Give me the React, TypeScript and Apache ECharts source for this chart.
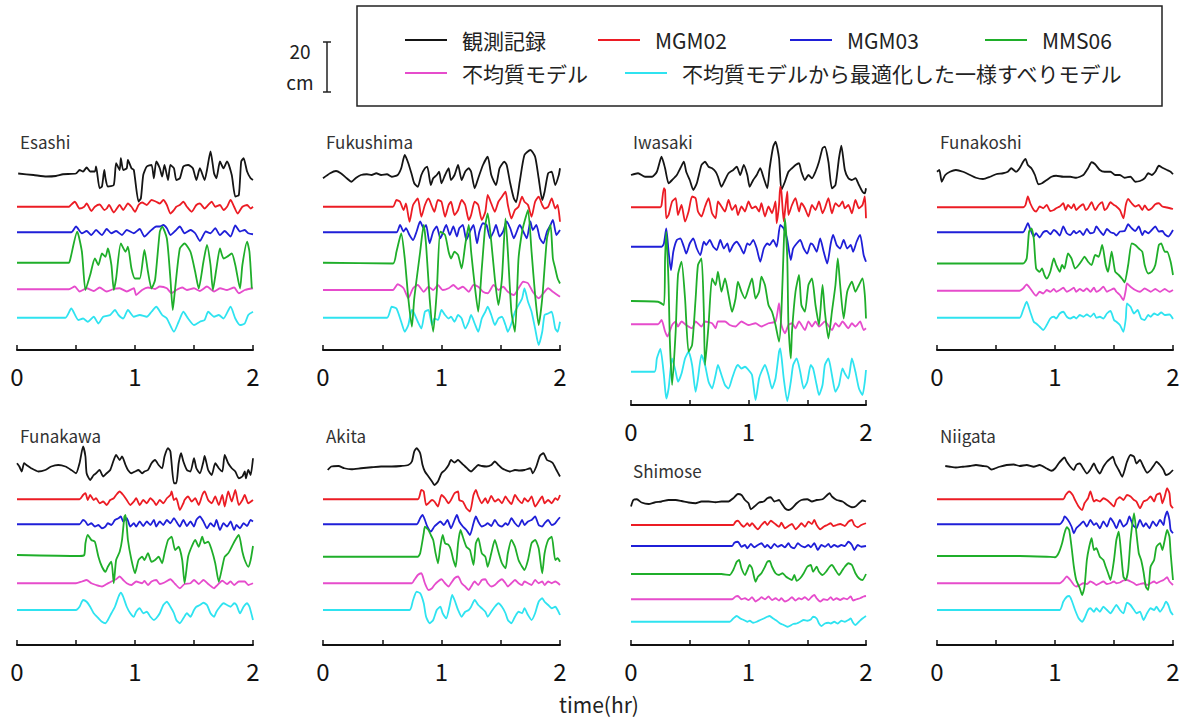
import React, { useEffect, useRef } from "react";
import * as echarts from "echarts";

// ---------- labels ----------
const SERIES_NAMES = [
  "観測記録",
  "MGM02",
  "MGM03",
  "MMS06",
  "不均質モデル",
  "不均質モデルから最適化した一様すべりモデル",
];
const STATIONS = ["Esashi", "Fukushima", "Iwasaki", "Funakoshi", "Funakawa", "Akita", "Shimose", "Niigata"];
const X_TICK_LABELS = [0, 1, 2];
const SCALE_BAR_CM = 20;
const X_LABEL = "time(hr)";

// ---------- waveforms: flat [time(hr), height(cm), ...] ----------
// Esashi
const esashiObs = [0.01,0.3, 0.14,-0.3, 0.25,-0.9, 0.33,-0.7, 0.39,0, 0.50,0.3, 0.53,1.7, 0.56,1.1, 0.59,2.7, 0.62,1.1, 0.66,1.1, 0.67,3.1, 0.70,-5.6, 0.72,-4.9, 0.74,1.7, 0.75,-1.6, 0.77,-4.9, 0.82,-4.3, 0.84,4.4, 0.87,1.7, 0.88,6.4, 0.90,1.7, 0.93,2.4, 0.94,5.7, 0.97,2.4, 0.99,1.7, 1.03,-10.9, 1.05,-9.6, 1.07,-0.3, 1.10,3.1, 1.14,3.7, 1.16,-1.6, 1.18,5.1, 1.21,2.4, 1.23,-0.9, 1.25,3.7, 1.28,-2.3, 1.30,3.7, 1.33,2.4, 1.35,-2.3, 1.38,-1.6, 1.41,3.1, 1.45,3.7, 1.49,2.4, 1.52,-2.3, 1.55,2.4, 1.59,-2.3, 1.61,1.7, 1.64,9.1, 1.67,0.4, 1.69,-1.6, 1.72,5.1, 1.75,2.4, 1.78,5.1, 1.82,-0.3, 1.85,-8.9, 1.88,-8.3, 1.90,5.1, 1.92,6.4, 1.95,1.1, 1.98,-1.6, 2.00,-2.3];
const esashiM02 = [0,0, 0.44,0, 0.45,0.4, 0.49,2, 0.53,-0.7, 0.57,0, 0.59,1.3, 0.63,-1.7, 0.66,0, 0.70,0.9, 0.74,-1.3, 0.76,-0.7, 0.78,0.7, 0.82,-2.3, 0.87,0.7, 0.90,-1.3, 0.94,1.3, 0.97,0, 1.00,-2, 1.03,0.7, 1.06,1.7, 1.10,0.7, 1.14,2.7, 1.18,2, 1.21,1.3, 1.24,2.7, 1.27,0.7, 1.30,-2.7, 1.33,-1.3, 1.35,0, 1.38,0.7, 1.41,2, 1.44,0, 1.48,-2, 1.52,0.7, 1.55,1.3, 1.59,-0.7, 1.62,0.7, 1.65,2, 1.68,0, 1.72,0.7, 1.75,-1.3, 1.78,0, 1.81,2.7, 1.84,0, 1.87,-2.7, 1.91,0, 1.95,0.7, 1.98,-0.7, 2.00,0];
const esashiM03 = [0,0, 0.46,0, 0.50,2.3, 0.55,-0.4, 0.59,0.5, 0.63,-1.1, 0.67,0.9, 0.72,-1.1, 0.76,1.3, 0.80,-0.4, 0.84,0.5, 0.89,-1.1, 0.93,0.9, 0.99,-0.4, 1.04,1.3, 1.08,-1.7, 1.13,0.5, 1.18,2.3, 1.21,2.3, 1.24,2.9, 1.27,1.6, 1.30,-1.1, 1.34,0.5, 1.38,2.3, 1.42,-0.4, 1.47,0.9, 1.51,-0.4, 1.55,-3.5, 1.60,0.3, 1.64,-0.4, 1.68,1.6, 1.72,-1.1, 1.76,0.5, 1.81,-1.7, 1.85,2.7, 1.89,0.3, 1.93,0.9, 1.96,-0.4, 2.00,-0.8];
const esashiM06 = [0,0, 0.44,0, 0.45,1.1, 0.51,12.4, 0.55,4.4, 0.58,-10.9, 0.62,-4.9, 0.66,1.7, 0.69,-0.9, 0.72,3.7, 0.75,2.4, 0.77,5.7, 0.80,-0.9, 0.82,-10.9, 0.84,-6.3, 0.88,7.7, 0.92,4.4, 0.94,6.4, 0.97,-2.3, 1.00,-6.3, 1.04,-6.3, 1.08,5.1, 1.11,-3.6, 1.14,-10.3, 1.17,-6.9, 1.21,12.4, 1.23,14.4, 1.27,9.7, 1.30,-6.3, 1.32,-18.9, 1.34,-10.3, 1.38,5.7, 1.42,7.7, 1.47,4.4, 1.51,-3.6, 1.54,-10.3, 1.58,0.4, 1.61,7.1, 1.64,-0.9, 1.66,-10.9, 1.69,-2.3, 1.72,5.7, 1.75,1.7, 1.78,2.4, 1.82,3.7, 1.85,-0.9, 1.89,-10.3, 1.91,-0.9, 1.95,8.4, 1.97,4.4, 1.99,-10.3];
const esashiHet = [0,0, 0.44,0, 0.49,1.1, 0.53,-0.9, 0.59,0.4, 0.65,-0.7, 0.70,0.7, 0.76,-0.9, 0.82,0.1, 0.87,0.4, 0.93,-0.9, 0.99,0.4, 1.01,-2.3, 1.06,-0.3, 1.11,0.7, 1.17,0.1, 1.21,1.1, 1.27,0.4, 1.31,-1.6, 1.35,-0.3, 1.40,0.7, 1.44,-0.3, 1.50,0.4, 1.55,-0.7, 1.61,1.1, 1.67,-0.9, 1.72,0.4, 1.78,-0.3, 1.84,0.7, 1.88,-1.6, 1.93,-0.3, 2.00,0.4];
const esashiUni = [0,0, 0.41,0, 0.46,3.7, 0.52,-0.9, 0.56,-0.3, 0.60,-1.6, 0.65,0.4, 0.69,-2.3, 0.73,0.4, 0.79,1.1, 0.83,3.1, 0.86,1.1, 0.90,-0.3, 0.94,3.1, 0.99,0.4, 1.04,1.1, 1.10,0.4, 1.14,2.4, 1.18,4.4, 1.23,1.1, 1.27,-0.3, 1.33,-5.6, 1.37,-1.6, 1.41,2.4, 1.45,-0.3, 1.50,-2.9, 1.55,-1.6, 1.59,-0.9, 1.62,2.4, 1.67,0.4, 1.71,1.1, 1.75,-0.3, 1.81,4.4, 1.85,-0.3, 1.89,-2.9, 1.93,-2.3, 1.96,1.1, 2.00,2.4];

// Fukushima
const fukushimaObs = [0.00,-1.3, 0.06,0.7, 0.11,1.6, 0.15,0.7, 0.20,-1.3, 0.24,-2.7, 0.28,-1.1, 0.32,0, 0.37,0.3, 0.41,0, 0.45,0.7, 0.49,0, 0.54,0.3, 0.58,-0.7, 0.63,0, 0.66,2.7, 0.69,8.0, 0.72,4.7, 0.75,0, 0.77,-3.3, 0.80,-4.7, 0.83,0, 0.86,2.7, 0.88,3.3, 0.91,-4.0, 0.93,-1.3, 0.96,0, 0.98,1.3, 1.00,-3.3, 1.03,0, 1.06,2.7, 1.08,-2.0, 1.11,0, 1.14,4.0, 1.17,-2.0, 1.20,1.3, 1.23,2.7, 1.25,1.3, 1.28,-5.3, 1.31,-1.3, 1.35,4.0, 1.39,7.3, 1.42,0, 1.46,-4.0, 1.49,2.7, 1.53,5.3, 1.55,4.0, 1.58,-3.3, 1.61,-9.3, 1.63,-10.9, 1.66,-2.7, 1.70,8.0, 1.75,10.0, 1.79,7.3, 1.82,-1.3, 1.85,-10.0, 1.87,-6.7, 1.90,0.7, 1.93,1.3, 1.96,-4.0, 1.99,0, 2.00,2.7];
const fukushimaM02 = [0,0, 0.59,0, 0.62,2.7, 0.65,2.0, 0.68,-1.3, 0.70,1.3, 0.73,-6.0, 0.76,0.7, 0.80,3.3, 0.83,-4.0, 0.86,0.7, 0.89,3.3, 0.92,0, 0.94,-2.0, 0.97,2.7, 1.00,2.0, 1.03,-4.0, 1.06,0.7, 1.08,2.0, 1.11,-3.3, 1.14,-1.3, 1.17,2.7, 1.20,0.7, 1.23,-5.3, 1.25,-3.3, 1.28,2.0, 1.31,0.7, 1.34,-5.3, 1.37,-2.0, 1.39,4.7, 1.42,1.3, 1.45,-2.0, 1.48,2.0, 1.51,4.0, 1.54,6.0, 1.56,0.7, 1.59,-4.7, 1.62,-1.3, 1.65,0, 1.68,4.0, 1.70,2.0, 1.73,0.7, 1.76,-4.0, 1.79,2.0, 1.82,4.0, 1.85,0.7, 1.87,-0.7, 1.90,0, 1.93,3.3, 1.96,-0.7, 1.98,0.7, 2.00,-6.0];
const fukushimaM03 = [0,0, 0.62,0, 0.65,2.9, 0.68,0.3, 0.70,1.6, 0.73,-1.1, 0.76,-3.1, 0.79,0.3, 0.82,4.3, 0.85,1.6, 0.87,2.9, 0.90,-4.4, 0.93,0.3, 0.96,2.3, 0.99,-2.4, 1.01,-0.4, 1.04,2.9, 1.07,-1.1, 1.10,2.3, 1.13,-1.7, 1.15,1.6, 1.18,2.9, 1.21,-3.1, 1.24,0.3, 1.27,2.9, 1.30,-4.4, 1.32,0.3, 1.35,3.6, 1.38,2.9, 1.41,-2.4, 1.44,0.3, 1.46,2.9, 1.49,-1.7, 1.52,0.3, 1.55,4.3, 1.58,1.6, 1.61,-2.4, 1.63,-0.4, 1.66,2.9, 1.69,0.3, 1.72,-2.4, 1.75,4.3, 1.77,0.9, 1.80,2.9, 1.83,-2.4, 1.86,-4.4, 1.89,0.3, 1.92,2.9, 1.94,4.9, 1.97,-1.1, 2.00,0.9];
const fukushimaM06 = [0,0, 0.59,-0.3, 0.62,4.4, 0.66,11.7, 0.69,1.7, 0.72,-14.3, 0.75,-25.6, 0.77,-14.3, 0.82,4.4, 0.85,15.1, 0.87,7.1, 0.90,-14.3, 0.93,-27.6, 0.96,-11.6, 0.99,12.4, 1.03,11.1, 1.06,4.4, 1.08,1.7, 1.11,4.4, 1.14,3.1, 1.17,-2.3, 1.20,7.1, 1.23,15.1, 1.25,4.4, 1.28,-8.9, 1.31,-19.6, 1.34,-2.3, 1.37,15.1, 1.39,19.7, 1.42,8.4, 1.45,-6.3, 1.48,-16.9, 1.51,-6.3, 1.54,17.7, 1.56,4.4, 1.59,-19.6, 1.62,-27.6, 1.65,1.7, 1.68,12.4, 1.70,16.4, 1.73,21.1, 1.76,4.4, 1.79,-12.9, 1.82,-24.9, 1.85,-14.3, 1.89,9.7, 1.92,15.1, 1.94,1.7, 1.96,-2.3, 1.98,-6.3, 2.00,-8.3];
const fukushimaHet = [0,0, 0.59,0, 0.63,2.3, 0.68,0.7, 0.72,-3.3, 0.76,0.7, 0.80,2.0, 0.85,-0.7, 0.89,1.3, 0.93,0, 0.97,2.0, 1.01,0, 1.06,0.7, 1.10,2.0, 1.14,0.4, 1.18,1.3, 1.23,-0.7, 1.27,2.0, 1.31,1.3, 1.35,-0.7, 1.39,-1.3, 1.44,2.0, 1.48,0, 1.52,1.3, 1.56,-0.7, 1.61,-2.0, 1.65,0.7, 1.69,3.3, 1.73,2.7, 1.77,-0.7, 1.82,-3.3, 1.86,-1.3, 1.90,0.7, 1.94,-0.7, 2.00,-2.7];
const fukushimaUni = [0,0, 0.54,0, 0.58,4.4, 0.62,3.7, 0.66,-1.6, 0.69,-5.6, 0.72,-2.9, 0.75,3.1, 0.77,1.7, 0.80,-1.6, 0.83,-4.3, 0.86,2.4, 0.89,3.1, 0.92,-2.9, 0.94,-0.3, 0.97,-0.9, 1.00,3.1, 1.03,1.1, 1.06,-0.3, 1.08,0.4, 1.11,-1.6, 1.14,1.1, 1.17,-0.3, 1.20,-4.3, 1.23,-1.6, 1.25,1.1, 1.28,-2.3, 1.31,-5.6, 1.34,-0.3, 1.37,2.4, 1.39,4.4, 1.42,1.1, 1.45,-2.9, 1.48,-0.3, 1.51,0.4, 1.54,-2.9, 1.56,-5.6, 1.59,-2.3, 1.62,2.4, 1.65,5.1, 1.68,7.7, 1.70,11.7, 1.73,6.4, 1.76,2.4, 1.79,-4.3, 1.82,-10.9, 1.85,-5.6, 1.87,1.1, 1.90,1.7, 1.93,2.4, 1.96,-4.3, 1.98,-5.6, 2.00,-1.6];

// Iwasaki
const iwasakiObs = [0,0, 0.06,0.7, 0.12,-0.7, 0.18,-0.7, 0.22,1.3, 0.26,7.3, 0.29,2.7, 0.32,-3.3, 0.35,-2.0, 0.39,0, 0.42,2.7, 0.45,5.3, 0.47,1.3, 0.50,-2.0, 0.53,-6.0, 0.56,-3.3, 0.60,4.0, 0.63,5.3, 0.66,3.3, 0.69,2.7, 0.72,1.3, 0.74,-0.7, 0.77,-4.7, 0.80,-2.0, 0.83,0.7, 0.87,2.0, 0.90,3.3, 0.93,0, 0.96,4.0, 0.99,0, 1.01,-4.7, 1.04,-2.0, 1.07,0, 1.10,2.7, 1.13,-1.3, 1.16,-5.3, 1.18,2.7, 1.21,11.3, 1.23,13.3, 1.26,6.7, 1.28,-6.0, 1.31,-2.7, 1.34,1.3, 1.37,2.7, 1.40,4.0, 1.43,4.7, 1.45,1.3, 1.48,-2.0, 1.51,0, 1.54,-1.3, 1.57,1.3, 1.60,5.3, 1.63,10.7, 1.65,11.3, 1.68,5.3, 1.71,-5.3, 1.74,-4.0, 1.77,6.7, 1.79,11.7, 1.82,2.0, 1.85,-1.3, 1.88,-2.0, 1.91,-1.3, 1.94,-4.0, 1.97,-6.7, 1.99,-7.3, 2.00,-5.3];
const iwasakiM02 = [0,0, 0.25,0, 0.26,0.9, 0.28,7.6, 0.29,6.9, 0.30,-4.4, 0.32,-3.1, 0.35,2.3, 0.38,3.6, 0.40,-3.1, 0.43,0.9, 0.46,-5.7, 0.49,-1.7, 0.52,4.3, 0.55,3.6, 0.57,-1.7, 0.60,-3.7, 0.63,0.3, 0.66,3.6, 0.69,-2.4, 0.72,-4.4, 0.74,2.3, 0.77,0.3, 0.80,-1.7, 0.83,2.9, 0.86,-1.1, 0.89,0.9, 0.91,-3.1, 0.94,0.3, 0.97,-1.7, 1.00,2.3, 1.03,-0.4, 1.06,0.3, 1.09,-1.7, 1.11,1.6, 1.14,-3.7, 1.17,0.3, 1.20,-2.4, 1.23,2.3, 1.24,-6.4, 1.26,0.9, 1.27,8.3, 1.28,6.3, 1.30,-5.7, 1.31,-1.7, 1.33,6.3, 1.34,-3.1, 1.37,0.9, 1.40,3.6, 1.43,-1.7, 1.45,1.6, 1.48,-0.4, 1.51,-3.7, 1.54,0.9, 1.57,-1.1, 1.60,2.3, 1.63,-2.4, 1.65,-0.4, 1.68,3.6, 1.71,-2.4, 1.74,1.6, 1.77,0.3, 1.80,2.3, 1.82,-0.4, 1.85,0.9, 1.88,-2.4, 1.91,2.9, 1.94,-0.4, 1.97,0.9, 1.99,4.3, 2.00,-4.4];
const iwasakiM03 = [0,0, 0.26,0, 0.28,1.3, 0.30,7.3, 0.32,-2.0, 0.34,-9.3, 0.36,-2.0, 0.39,2.7, 0.42,3.3, 0.45,0, 0.47,-2.7, 0.50,1.3, 0.53,3.3, 0.56,-0.7, 0.59,-3.3, 0.62,2.0, 0.64,0.7, 0.67,2.7, 0.70,0, 0.73,-1.3, 0.76,2.7, 0.79,-0.7, 0.82,1.3, 0.84,-2.0, 0.87,0.7, 0.90,2.0, 0.93,0, 0.96,-2.7, 0.99,1.3, 1.01,0.7, 1.04,2.7, 1.07,-0.7, 1.10,-6.0, 1.13,-0.7, 1.16,1.3, 1.18,0.7, 1.21,2.7, 1.24,0, 1.27,8.7, 1.30,7.3, 1.33,2.7, 1.36,-5.3, 1.38,-0.7, 1.41,1.3, 1.44,2.7, 1.47,-0.7, 1.50,-2.7, 1.53,1.3, 1.55,0.7, 1.58,-2.0, 1.61,3.3, 1.64,-2.0, 1.67,-6.7, 1.70,1.3, 1.72,4.7, 1.75,0.7, 1.78,-0.7, 1.81,2.7, 1.84,-0.7, 1.87,0.7, 1.89,-2.0, 1.92,2.0, 1.95,4.7, 1.98,-3.3, 2.00,-6.0];
const iwasakiM06 = [0,0.3, 0.23,0, 0.28,-1.3, 0.29,17.3, 0.30,28.0, 0.32,6.7, 0.33,-14.7, 0.35,-33.3, 0.38,-12.0, 0.40,10.7, 0.43,16.0, 0.46,1.3, 0.49,-20.0, 0.52,-17.3, 0.55,1.3, 0.57,14.7, 0.60,17.3, 0.62,-4.0, 0.63,-25.3, 0.66,-9.3, 0.69,9.3, 0.72,6.7, 0.74,12.0, 0.77,4.0, 0.80,9.3, 0.83,2.7, 0.86,-4.0, 0.89,1.3, 0.91,8.0, 0.94,4.0, 0.97,1.3, 1.00,5.3, 1.03,9.3, 1.06,1.3, 1.09,4.0, 1.11,10.0, 1.14,6.7, 1.17,-1.3, 1.20,-4.0, 1.23,-9.3, 1.26,-16.0, 1.28,-4.0, 1.30,22.7, 1.31,33.3, 1.33,17.3, 1.34,-9.3, 1.36,-22.7, 1.37,-12.0, 1.40,4.0, 1.43,10.7, 1.45,-1.3, 1.48,-4.0, 1.51,6.7, 1.54,9.3, 1.57,-1.3, 1.60,-9.3, 1.63,6.7, 1.65,-4.0, 1.68,-14.7, 1.71,-4.0, 1.74,6.7, 1.76,17.3, 1.78,6.7, 1.81,-6.7, 1.84,4.0, 1.88,8.0, 1.91,4.0, 1.94,6.7, 1.97,9.3, 1.99,2.7, 2.00,-6.7];
const iwasakiHet = [0,0, 0.23,0, 0.26,1.7, 0.29,-2.9, 0.31,-4.9, 0.35,-0.3, 0.38,1.1, 0.40,-0.9, 0.43,1.1, 0.47,-0.3, 0.52,-1.6, 0.55,1.1, 0.60,-0.9, 0.63,1.1, 0.69,0.4, 0.72,-1.6, 0.74,1.1, 0.80,1.1, 0.84,-0.3, 0.89,-0.9, 0.94,1.1, 1.00,-0.3, 1.06,0.4, 1.11,-0.9, 1.17,0.4, 1.23,1.1, 1.26,8.4, 1.28,-0.3, 1.31,-3.6, 1.34,-0.3, 1.37,0.4, 1.40,-1.6, 1.43,1.1, 1.48,-2.3, 1.51,1.1, 1.54,-0.9, 1.57,1.1, 1.60,-0.9, 1.65,1.1, 1.71,-2.3, 1.74,0.4, 1.77,-0.9, 1.80,1.1, 1.85,-1.6, 1.88,0.4, 1.91,-0.9, 1.95,1.1, 1.98,-2.3, 2.00,-1.6];
const iwasakiUni = [0,0, 0.20,0, 0.22,5.3, 0.25,9.1, 0.28,-1.3, 0.30,-10.7, 0.32,-6.7, 0.35,5.3, 0.38,0, 0.40,-4.0, 0.43,-0.7, 0.46,5.3, 0.49,8.0, 0.52,2.7, 0.55,-8.0, 0.57,-2.7, 0.60,6.7, 0.63,2.7, 0.66,-4.0, 0.69,-6.7, 0.72,-1.3, 0.74,2.7, 0.77,-1.3, 0.80,-5.3, 0.83,-6.7, 0.86,-2.7, 0.89,1.3, 0.91,2.7, 0.94,1.3, 0.97,2.0, 1.00,0.7, 1.03,-1.3, 1.06,-11.3, 1.09,-2.7, 1.11,0, 1.14,2.7, 1.17,-1.3, 1.20,-6.7, 1.23,-2.7, 1.26,8.0, 1.27,9.3, 1.30,-2.7, 1.33,-11.7, 1.36,-4.0, 1.38,2.7, 1.41,5.3, 1.44,0, 1.47,-6.7, 1.50,-4.0, 1.53,2.7, 1.55,1.3, 1.58,-5.3, 1.60,-9.3, 1.63,-5.3, 1.65,2.7, 1.68,5.3, 1.71,-1.3, 1.74,-8.0, 1.77,-5.3, 1.80,1.3, 1.82,-0.7, 1.85,-2.7, 1.88,5.3, 1.91,0, 1.94,-6.7, 1.97,-9.3, 1.99,-4.0, 2.00,0.7];

// Funakoshi
const funakoshiObs = [0,1.3, 0.02,2.0, 0.04,-2.7, 0.07,0, 0.11,1.3, 0.16,2.0, 0.22,1.3, 0.28,0, 0.33,-1.1, 0.39,-1.6, 0.45,-0.7, 0.50,0.3, 0.56,0.7, 0.60,1.3, 0.63,2.7, 0.67,1.3, 0.70,2.7, 0.73,5.3, 0.75,6.4, 0.77,4.0, 0.80,2.7, 0.83,0, 0.86,-3.7, 0.89,-3.3, 0.93,-2.0, 0.97,-0.7, 1.01,-0.3, 1.07,-0.7, 1.13,-0.7, 1.18,-1.1, 1.24,0, 1.28,2.7, 1.31,5.1, 1.34,4.3, 1.38,2.0, 1.42,1.3, 1.47,1.3, 1.51,0, 1.55,0, 1.59,-1.1, 1.64,-0.7, 1.68,-2.7, 1.72,-2.4, 1.76,-1.3, 1.79,0.7, 1.82,0, 1.85,1.3, 1.88,3.7, 1.91,2.9, 1.95,2.0, 1.98,1.3, 2.00,0.3];
const funakoshiM02 = [0,0, 0.73,0, 0.75,0.9, 0.77,4.3, 0.79,1.6, 0.82,-1.1, 0.84,-1.7, 0.87,0.3, 0.90,-0.4, 0.93,0.9, 0.96,-1.5, 0.99,-1.1, 1.01,-0.4, 1.04,0.3, 1.07,1.6, 1.09,-1.1, 1.11,0.9, 1.14,-0.4, 1.16,1.2, 1.18,-1.1, 1.21,0.3, 1.24,1.2, 1.26,-1.1, 1.28,-0.4, 1.31,2.0, 1.34,-1.1, 1.37,0.9, 1.40,2.0, 1.42,-1.1, 1.44,-0.4, 1.47,2.0, 1.50,0.9, 1.52,0.3, 1.55,-1.1, 1.58,-4.4, 1.60,0.9, 1.62,3.3, 1.65,1.6, 1.68,0.3, 1.71,0.9, 1.74,-1.1, 1.76,0.7, 1.79,-1.1, 1.82,-0.4, 1.85,1.2, 1.88,1.6, 1.91,0.3, 1.95,-0.1, 2.00,-0.7];
const funakoshiM03 = [0,0, 0.73,0, 0.75,1.6, 0.77,3.6, 0.79,1.3, 0.82,-1.7, 0.84,-0.4, 0.87,-2.1, 0.90,0, 0.93,0.5, 0.96,-0.8, 0.99,0.9, 1.01,0.3, 1.04,-1.3, 1.07,2.3, 1.10,-0.4, 1.13,-1.1, 1.16,0.5, 1.18,-0.4, 1.21,0.5, 1.24,-1.1, 1.27,1.3, 1.30,-0.4, 1.33,0, 1.35,2.3, 1.38,0.5, 1.41,-1.1, 1.44,1.3, 1.47,0, 1.50,-0.4, 1.52,-1.3, 1.55,0.3, 1.59,0.5, 1.62,3.2, 1.65,1.6, 1.68,0.5, 1.71,2.3, 1.74,-1.1, 1.76,0.5, 1.79,-0.4, 1.82,0.9, 1.85,2.3, 1.88,0.3, 1.91,0.5, 1.93,-0.8, 1.96,-1.7, 2.00,0.9];
const funakoshiM06 = [0,-0.3, 0.73,-0.3, 0.76,1.7, 0.78,12.4, 0.80,13.7, 0.82,9.7, 0.84,-2.3, 0.87,-3.6, 0.89,-2.3, 0.91,-4.9, 0.93,-6.3, 0.96,-3.6, 0.99,1.7, 1.01,-0.9, 1.04,-3.6, 1.06,-0.9, 1.08,-2.3, 1.11,3.7, 1.14,1.7, 1.17,-2.3, 1.20,-0.9, 1.23,1.1, 1.25,2.4, 1.28,0.4, 1.31,-0.9, 1.34,3.1, 1.37,2.4, 1.40,7.1, 1.43,-0.9, 1.45,-3.6, 1.48,4.4, 1.51,-3.6, 1.54,-4.9, 1.57,-6.5, 1.59,-7.9, 1.62,-0.9, 1.65,7.7, 1.68,7.1, 1.71,5.7, 1.74,4.4, 1.76,-0.9, 1.79,-4.3, 1.82,-3.6, 1.85,-0.9, 1.88,7.1, 1.90,7.7, 1.93,4.4, 1.95,4.4, 1.98,0.4, 2.00,-4.9];
const funakoshiHet = [0,0, 0.70,0, 0.73,0.9, 0.76,2.5, 0.79,0.9, 0.82,-1.1, 0.84,-2.0, 0.87,-0.4, 0.90,-1.1, 0.93,0.3, 0.96,-0.4, 0.99,0.7, 1.01,-0.4, 1.04,0.3, 1.07,1.2, 1.10,-0.4, 1.13,0.3, 1.16,1.2, 1.18,-0.4, 1.21,0.7, 1.24,-0.1, 1.27,0.9, 1.30,-0.4, 1.33,1.2, 1.35,-0.4, 1.38,0.3, 1.41,1.6, 1.44,-0.4, 1.47,0.3, 1.50,0.9, 1.52,-0.4, 1.55,-1.7, 1.58,-3.7, 1.60,0.3, 1.61,2.9, 1.64,1.6, 1.68,0.3, 1.72,-0.4, 1.76,0.9, 1.81,-0.4, 1.85,0.7, 1.89,-0.4, 1.93,0.7, 1.97,-0.4, 2.00,0.3];
const funakoshiUni = [0,0, 0.70,0, 0.73,3.1, 0.76,6.4, 0.79,2.4, 0.82,-1.6, 0.84,-2.3, 0.87,-3.6, 0.90,-4.9, 0.93,-2.9, 0.96,-0.3, 0.99,0.4, 1.01,-0.3, 1.04,1.7, 1.07,2.4, 1.10,0.4, 1.13,-0.3, 1.16,0.4, 1.18,-0.3, 1.21,1.1, 1.24,0.4, 1.27,1.3, 1.30,0.4, 1.33,1.7, 1.35,0, 1.38,0.4, 1.41,-0.3, 1.44,1.7, 1.47,2.7, 1.50,-0.9, 1.52,-1.6, 1.55,-2.9, 1.58,-5.6, 1.60,-0.3, 1.61,5.7, 1.64,4.4, 1.67,1.7, 1.70,3.1, 1.73,-0.3, 1.76,-0.9, 1.79,1.1, 1.81,0.4, 1.84,1.7, 1.87,1.1, 1.90,2.1, 1.93,1.1, 1.97,1.3, 2.00,-0.5];

// Funakawa
const funakawaObs = [0,2.0, 0.02,0.7, 0.04,-1.3, 0.06,2.0, 0.08,1.3, 0.12,0, 0.18,-1.3, 0.24,-0.7, 0.29,0.7, 0.35,1.3, 0.41,0.7, 0.46,-0.7, 0.50,-2.0, 0.53,2.0, 0.56,8.7, 0.58,4.7, 0.59,-2.0, 0.62,-4.7, 0.65,-2.7, 0.67,-2.0, 0.70,-0.7, 0.73,-3.3, 0.76,-2.0, 0.79,-0.7, 0.82,3.3, 0.84,5.3, 0.87,3.3, 0.89,4.7, 0.92,1.3, 0.94,-0.7, 0.97,-2.0, 1.00,-1.3, 1.03,-0.7, 1.06,-2.0, 1.08,-1.3, 1.11,-0.7, 1.14,2.0, 1.17,3.3, 1.20,1.3, 1.23,0, 1.25,4.7, 1.28,8.0, 1.30,6.7, 1.33,-6.0, 1.35,-6.0, 1.37,2.0, 1.39,6.0, 1.41,2.7, 1.44,-0.7, 1.47,-1.3, 1.50,4.0, 1.52,0, 1.55,-2.0, 1.58,2.7, 1.59,4.9, 1.62,-0.7, 1.65,-2.7, 1.68,2.0, 1.71,0, 1.74,-1.3, 1.76,5.3, 1.79,2.0, 1.82,0, 1.85,-1.3, 1.88,-4.0, 1.91,-3.3, 1.93,-1.3, 1.94,-4.0, 1.96,-0.7, 1.98,-2.7, 2.00,4.0];
const funakawaM02 = [0,0, 0.53,0, 0.56,1.7, 0.58,2.4, 0.60,-0.3, 0.62,1.7, 0.65,-0.3, 0.67,0.4, 0.70,-1.6, 0.73,-0.9, 0.76,-2.3, 0.79,-0.3, 0.82,0.4, 0.84,1.7, 0.87,3.1, 0.90,1.7, 0.93,-0.3, 0.96,-2.3, 0.99,-0.9, 1.01,0.4, 1.04,-2.3, 1.07,-0.3, 1.10,-1.6, 1.13,0.4, 1.16,-0.9, 1.18,-2.3, 1.21,-0.3, 1.24,-1.6, 1.27,0.4, 1.30,1.7, 1.31,3.1, 1.33,-0.3, 1.35,0.4, 1.38,-4.3, 1.41,-1.6, 1.42,-0.3, 1.45,1.1, 1.48,-0.9, 1.51,0.4, 1.54,-2.3, 1.57,1.7, 1.59,3.1, 1.62,-0.3, 1.65,-1.6, 1.68,1.1, 1.71,-2.3, 1.74,1.7, 1.76,-2.9, 1.79,3.1, 1.82,-0.9, 1.85,3.7, 1.88,-2.3, 1.91,-0.3, 1.93,1.7, 1.96,-1.6, 2.00,-0.3];
const funakawaM03 = [0,0, 0.53,0, 0.56,1.7, 0.58,1.1, 0.60,-0.3, 0.63,0.4, 0.66,-0.9, 0.69,-0.3, 0.72,-1.6, 0.75,-0.9, 0.77,0.4, 0.80,-0.3, 0.83,1.7, 0.86,2.4, 0.88,3.1, 0.90,1.1, 0.93,2.4, 0.96,-0.9, 0.99,0.4, 1.01,-0.9, 1.04,1.1, 1.07,-0.7, 1.10,1.1, 1.13,-0.3, 1.16,1.7, 1.18,-0.9, 1.21,1.1, 1.24,-0.3, 1.27,1.7, 1.30,0.4, 1.33,2.4, 1.35,1.1, 1.38,-0.9, 1.41,1.7, 1.44,-0.7, 1.47,1.1, 1.50,-0.9, 1.52,1.7, 1.55,3.1, 1.58,1.1, 1.61,-1.6, 1.64,0.4, 1.67,-0.9, 1.69,1.7, 1.72,-2.3, 1.75,0.4, 1.78,-0.9, 1.81,1.1, 1.84,-2.3, 1.86,-0.3, 1.89,-1.6, 1.92,0.4, 1.95,-0.7, 1.98,1.7, 2.00,1.1];
const funakawaM06 = [0,0.4, 0.53,0, 0.57,0.4, 0.58,5.1, 0.60,8.4, 0.63,6.4, 0.66,5.7, 0.69,-0.3, 0.72,-4.3, 0.75,-6.3, 0.77,-4.3, 0.80,-2.3, 0.82,-10.9, 0.84,-1.6, 0.87,1.7, 0.89,6.4, 0.91,15.7, 0.92,16.4, 0.94,6.4, 0.97,-1.6, 1.00,-6.9, 1.03,-1.6, 1.06,-0.3, 1.08,-1.6, 1.11,1.1, 1.14,-2.3, 1.17,-1.6, 1.20,-0.3, 1.23,-2.9, 1.25,1.1, 1.28,6.4, 1.31,7.7, 1.34,2.4, 1.37,3.7, 1.40,-1.6, 1.42,-10.9, 1.45,-0.3, 1.48,3.7, 1.51,6.4, 1.54,3.7, 1.57,7.7, 1.59,5.1, 1.62,5.7, 1.65,2.4, 1.68,-2.9, 1.71,-10.3, 1.74,-4.3, 1.76,-0.3, 1.79,1.1, 1.82,3.7, 1.85,6.4, 1.88,8.4, 1.91,1.7, 1.93,-1.6, 1.96,-4.3, 1.98,-1.6, 2.00,4.0];
const funakawaHet = [0,0, 0.50,0, 0.55,0.7, 0.59,1.3, 0.63,0, 0.67,-0.7, 0.72,-1.3, 0.76,-0.3, 0.80,0.7, 0.84,1.6, 0.87,2.7, 0.90,1.3, 0.93,0, 0.97,-0.7, 1.01,0.7, 1.06,0, 1.08,0.9, 1.11,-0.7, 1.14,0.7, 1.18,1.3, 1.21,-0.3, 1.25,0.3, 1.30,1.6, 1.34,-0.3, 1.38,-2.0, 1.42,-0.3, 1.47,0, 1.50,1.3, 1.54,-0.3, 1.58,1.3, 1.62,-0.3, 1.67,-2.0, 1.69,-1.1, 1.74,1.0, 1.78,-0.3, 1.81,0.7, 1.84,-0.7, 1.88,0.7, 1.93,0.7, 1.96,-0.7, 2.00,0];
const funakawaUni = [0,0, 0.50,0, 0.53,1.3, 0.56,4.0, 0.59,3.3, 0.62,1.3, 0.65,-1.3, 0.69,-3.3, 0.72,-4.7, 0.75,-5.3, 0.77,-4.0, 0.80,-1.3, 0.83,1.3, 0.86,5.3, 0.88,6.9, 0.90,5.3, 0.93,1.3, 0.96,-1.3, 0.99,-2.7, 1.01,-0.7, 1.04,0.7, 1.07,-1.3, 1.10,-0.7, 1.13,-2.7, 1.16,-4.0, 1.18,-3.3, 1.21,-1.3, 1.24,2.0, 1.27,3.3, 1.30,1.3, 1.33,-1.3, 1.35,-4.0, 1.38,-5.3, 1.41,-3.3, 1.44,-1.3, 1.47,-2.7, 1.50,0, 1.52,1.3, 1.55,2.0, 1.58,2.9, 1.61,2.0, 1.64,-1.3, 1.67,-2.7, 1.69,-0.7, 1.72,1.3, 1.75,2.7, 1.78,2.0, 1.81,1.3, 1.84,2.7, 1.86,2.0, 1.89,-1.3, 1.92,1.3, 1.95,2.7, 1.97,1.3, 2.00,-4.0];

// Akita
const akitaObs = [0.04,-0.7, 0.07,0.7, 0.13,0.9, 0.18,0, 0.24,-0.4, 0.32,0, 0.41,0.4, 0.49,0.7, 0.58,0.7, 0.66,0.9, 0.72,1.3, 0.75,2.7, 0.77,6.7, 0.79,8.0, 0.82,6.0, 0.84,1.3, 0.86,-1.3, 0.89,-3.3, 0.92,-5.3, 0.94,-6.7, 0.97,-5.3, 1.00,-2.0, 1.03,-0.7, 1.06,1.3, 1.08,3.3, 1.11,2.3, 1.14,3.3, 1.17,2.0, 1.20,0.7, 1.23,-0.7, 1.25,-1.3, 1.28,0, 1.31,1.3, 1.34,0.9, 1.38,0.7, 1.42,1.3, 1.45,2.7, 1.48,1.3, 1.51,0, 1.54,-0.7, 1.58,-1.3, 1.62,-0.7, 1.66,-0.9, 1.70,-0.7, 1.75,0, 1.77,-2.0, 1.80,0.7, 1.83,4.9, 1.86,6.0, 1.89,3.3, 1.92,2.7, 1.94,2.0, 1.97,-0.7, 2.00,-3.3];
const akitaM02 = [0,0, 0.80,0, 0.83,3.7, 0.85,3.1, 0.87,-2.3, 0.89,-1.6, 0.92,-0.3, 0.94,-0.9, 0.97,-2.9, 1.00,1.7, 1.03,0.4, 1.06,-1.6, 1.08,-0.3, 1.11,2.4, 1.14,3.1, 1.15,-0.3, 1.18,-0.9, 1.21,-3.6, 1.24,-4.9, 1.27,1.7, 1.29,3.7, 1.31,1.1, 1.34,-1.6, 1.37,0.4, 1.39,-1.6, 1.42,1.3, 1.45,-0.9, 1.48,0, 1.51,-1.6, 1.54,1.1, 1.56,-0.3, 1.59,-1.9, 1.62,1.7, 1.65,-0.3, 1.68,-1.6, 1.70,0.4, 1.73,-0.9, 1.76,1.1, 1.79,-2.9, 1.82,-0.9, 1.85,1.1, 1.87,-1.6, 1.90,-0.3, 1.93,-1.6, 1.96,0.4, 1.98,-0.3, 2.00,1.7];
const akitaM03 = [0,0, 0.79,0, 0.82,2.4, 0.84,3.7, 0.86,1.7, 0.88,-0.9, 0.91,-2.9, 0.94,-0.9, 0.97,0.4, 0.99,1.1, 1.02,-0.3, 1.05,1.7, 1.08,-1.6, 1.11,1.7, 1.13,3.7, 1.15,1.1, 1.18,-0.9, 1.21,-2.3, 1.24,-4.3, 1.27,0.4, 1.29,3.1, 1.31,1.1, 1.34,-0.9, 1.37,-0.3, 1.39,0.4, 1.42,-0.7, 1.45,1.7, 1.48,-0.3, 1.51,-0.9, 1.54,0.4, 1.56,-0.3, 1.59,2.4, 1.62,0.4, 1.65,-0.9, 1.68,1.7, 1.70,-0.3, 1.73,1.1, 1.76,1.7, 1.79,3.1, 1.82,-0.3, 1.85,-0.9, 1.87,0.4, 1.90,1.7, 1.93,-0.3, 1.96,0.4, 1.98,1.7, 2.00,2.8];
const akitaM06 = [0,-0.3, 0.80,-0.3, 0.82,1.1, 0.85,9.1, 0.86,11.7, 0.89,10.4, 0.91,8.4, 0.93,6.4, 0.95,1.1, 0.97,-2.9, 0.99,3.7, 1.01,8.4, 1.03,5.1, 1.06,4.4, 1.08,2.4, 1.10,-1.6, 1.12,-4.3, 1.14,5.1, 1.16,10.4, 1.18,7.7, 1.21,3.7, 1.24,2.4, 1.27,-3.6, 1.29,5.1, 1.31,7.1, 1.34,1.1, 1.37,-0.3, 1.39,-4.3, 1.42,1.1, 1.45,6.4, 1.48,1.7, 1.51,-2.9, 1.54,-4.9, 1.56,1.1, 1.59,6.4, 1.62,3.7, 1.65,-1.6, 1.68,-4.3, 1.70,-5.6, 1.73,-1.6, 1.76,5.1, 1.79,6.4, 1.82,3.1, 1.85,-6.9, 1.87,1.1, 1.90,6.4, 1.93,7.7, 1.96,-1.6, 1.98,-0.9, 2.00,-2.3];
const akitaHet = [0,0, 0.75,0, 0.77,1.3, 0.80,3.3, 0.83,4.0, 0.86,0, 0.89,-2.7, 0.92,-2.0, 0.94,-0.7, 0.97,0.7, 1.00,1.6, 1.03,0, 1.06,-1.3, 1.08,0, 1.11,2.0, 1.14,2.7, 1.17,0, 1.20,-1.3, 1.23,-2.7, 1.25,-1.3, 1.28,0.7, 1.31,-0.7, 1.34,1.3, 1.37,1.6, 1.39,0, 1.42,-1.3, 1.45,-0.7, 1.48,0.7, 1.51,1.6, 1.54,0, 1.56,-1.3, 1.59,0, 1.62,1.3, 1.65,0, 1.68,-0.7, 1.70,0.7, 1.73,0, 1.76,-0.7, 1.79,1.3, 1.82,0, 1.85,0.7, 1.87,-0.7, 1.90,0.7, 1.93,0, 1.96,0.7, 2.00,-0.7];
const akitaUni = [0,0, 0.73,0, 0.76,4.0, 0.79,7.3, 0.82,6.7, 0.85,2.7, 0.87,-2.7, 0.90,-5.3, 0.93,-4.0, 0.96,0, 0.99,1.3, 1.01,-1.3, 1.04,-3.3, 1.07,2.0, 1.09,6.0, 1.11,4.0, 1.14,0, 1.17,-2.7, 1.20,-0.7, 1.23,0, 1.25,1.3, 1.28,4.0, 1.31,2.0, 1.34,0.7, 1.37,-0.7, 1.39,-2.7, 1.42,-0.7, 1.45,1.3, 1.48,2.7, 1.51,1.3, 1.54,-1.3, 1.56,-4.0, 1.59,-5.3, 1.62,-2.7, 1.65,-0.7, 1.68,-1.3, 1.70,0.7, 1.73,-2.0, 1.76,-4.0, 1.79,-1.3, 1.82,3.3, 1.85,4.7, 1.87,3.3, 1.90,2.0, 1.93,0.7, 1.96,1.3, 1.98,0, 2.00,-2.0];

// Shimose
const shimoseObs = [0,-1.3, 0.02,1.3, 0.05,1.6, 0.09,0.3, 0.15,-0.3, 0.20,0.3, 0.26,0.7, 0.32,1.3, 0.38,1.3, 0.43,0.9, 0.49,0.3, 0.55,0, 0.60,0.7, 0.66,0.7, 0.72,0.4, 0.77,0.7, 0.83,0.7, 0.87,2.0, 0.91,3.7, 0.94,3.3, 0.97,1.3, 1.00,0, 1.02,-2.4, 1.05,-1.3, 1.09,0.3, 1.13,0.7, 1.16,2.0, 1.19,2.4, 1.22,0.7, 1.26,1.3, 1.28,0, 1.31,-2.0, 1.34,-2.7, 1.37,-2.0, 1.41,0, 1.45,1.3, 1.50,1.6, 1.54,0.7, 1.58,1.3, 1.63,1.6, 1.67,3.3, 1.69,4.0, 1.71,2.7, 1.75,1.3, 1.80,0.7, 1.84,-0.7, 1.88,-1.6, 1.91,-1.3, 1.94,0, 1.97,1.1, 2.00,0.7];
const shimoseM02 = [0,0, 0.87,0, 0.89,1.3, 0.91,1.7, 0.94,0, 0.96,-0.7, 0.99,0.7, 1.01,-0.4, 1.03,0.7, 1.06,-0.9, 1.08,-1.7, 1.11,0, 1.14,1.3, 1.16,0, 1.19,1.7, 1.22,0.7, 1.26,-0.7, 1.28,0.9, 1.31,-1.3, 1.34,-0.4, 1.37,0.4, 1.40,-1.7, 1.43,-0.4, 1.45,0.7, 1.48,-0.7, 1.51,1.3, 1.54,0.4, 1.56,2.0, 1.58,0, 1.61,-1.7, 1.64,-0.7, 1.67,0, 1.70,0.7, 1.72,-0.4, 1.75,0, 1.78,0.4, 1.82,-0.4, 1.85,1.3, 1.88,2.0, 1.90,0, 1.93,-0.9, 1.96,0, 2.00,0.7];
const shimoseM03 = [0,0, 0.86,0, 0.88,1.3, 0.91,1.7, 0.94,-0.3, 0.97,0.4, 0.99,-0.9, 1.02,0.8, 1.05,-0.5, 1.08,0.4, 1.11,1.1, 1.14,-0.5, 1.16,0.4, 1.19,-0.9, 1.22,0.8, 1.25,-0.3, 1.28,0.4, 1.31,-0.5, 1.34,1.1, 1.36,-0.3, 1.39,-0.9, 1.42,1.1, 1.45,0, 1.48,-0.5, 1.51,0.4, 1.53,-0.5, 1.56,1.1, 1.59,-1.6, 1.62,0.4, 1.65,-0.3, 1.68,0.8, 1.70,-0.5, 1.73,0.4, 1.76,-0.3, 1.79,0.4, 1.82,0, 1.85,1.7, 1.88,0.4, 1.90,-1.6, 1.93,0.4, 1.96,-0.3, 2.00,0];
const shimoseM06 = [0,0, 0.77,0, 0.84,-0.4, 0.87,1.6, 0.90,4.9, 0.92,5.6, 0.94,2.3, 0.97,-0.4, 0.99,1.6, 1.01,3.6, 1.03,2.3, 1.05,-1.7, 1.06,-3.1, 1.08,-1.1, 1.11,0.3, 1.14,2.9, 1.16,4.9, 1.18,5.2, 1.20,2.9, 1.23,0.3, 1.26,-0.4, 1.29,0.3, 1.32,-1.1, 1.34,-1.7, 1.37,-2.4, 1.39,-0.4, 1.41,-2.7, 1.44,-1.7, 1.47,0.3, 1.50,2.9, 1.53,3.6, 1.55,0.9, 1.58,2.9, 1.60,0.9, 1.63,-0.4, 1.66,0.9, 1.69,2.9, 1.71,3.6, 1.74,1.6, 1.77,-0.4, 1.80,1.6, 1.82,2.9, 1.85,4.3, 1.88,3.6, 1.91,0.3, 1.94,-1.7, 1.97,-2.4, 2.00,0];
const shimoseHet = [0,0, 0.86,0, 0.89,1.1, 0.91,1.3, 0.94,0, 0.97,0.4, 1.00,-0.3, 1.03,0.8, 1.06,-0.9, 1.09,0, 1.11,0.8, 1.14,0, 1.17,1.1, 1.20,-0.3, 1.23,0.4, 1.26,-0.5, 1.28,0.4, 1.31,-0.9, 1.34,-0.3, 1.37,0.8, 1.40,-0.5, 1.43,0.4, 1.45,0, 1.48,0.8, 1.51,-0.3, 1.54,1.1, 1.56,1.7, 1.58,0.4, 1.61,-0.9, 1.64,0, 1.67,-0.3, 1.70,0.8, 1.72,-0.3, 1.75,0.4, 1.78,-0.3, 1.81,0.4, 1.84,0, 1.87,1.1, 1.89,-0.5, 1.92,0, 1.95,0.4, 1.98,1.1, 2.00,1.3];
const shimoseUni = [0,0, 0.84,0, 0.87,1.3, 0.90,2.3, 0.93,1.3, 0.96,0.7, 0.99,0, 1.01,0.4, 1.04,-0.4, 1.07,0, 1.10,0.7, 1.13,1.3, 1.16,2.0, 1.18,2.3, 1.21,1.3, 1.24,0.4, 1.27,-0.7, 1.30,-1.3, 1.33,-2.0, 1.35,-1.7, 1.38,-0.9, 1.41,-0.7, 1.44,0, 1.47,0.7, 1.50,0.4, 1.53,0.9, 1.55,2.0, 1.58,1.3, 1.60,-0.7, 1.62,-1.7, 1.65,-0.7, 1.68,-0.4, 1.70,-0.7, 1.73,0, 1.76,-0.7, 1.79,0.4, 1.82,0, 1.85,0.7, 1.87,1.3, 1.89,-0.4, 1.91,-1.3, 1.94,0, 1.97,1.3, 2.00,2.3];

// Niigata
const niigataObs = [0.07,0.3, 0.11,0, 0.16,-0.3, 0.22,0, 0.28,0.3, 0.33,0.7, 0.39,0.3, 0.43,0, 0.46,-1.1, 0.49,-0.7, 0.53,0, 0.59,0.7, 0.65,0.9, 0.70,0.3, 0.76,0.7, 0.82,0, 0.87,0.7, 0.93,-0.7, 0.97,-1.6, 1.00,-0.7, 1.03,1.3, 1.06,2.9, 1.08,3.7, 1.10,2.0, 1.13,0, 1.16,-1.3, 1.18,0.7, 1.21,1.3, 1.24,-0.7, 1.27,-2.7, 1.30,-1.1, 1.33,1.3, 1.35,-0.7, 1.38,-2.7, 1.41,0, 1.44,2.0, 1.47,3.3, 1.49,4.0, 1.51,1.3, 1.54,-1.3, 1.57,-4.0, 1.59,-1.3, 1.61,2.0, 1.64,4.7, 1.67,4.0, 1.69,1.3, 1.72,2.7, 1.75,0, 1.78,-2.4, 1.81,-1.3, 1.84,0.7, 1.86,2.0, 1.89,0.7, 1.92,-1.3, 1.94,-3.3, 1.97,-2.7, 2.00,-1.3];
const niigataM02 = [0,0, 1.07,0, 1.09,1.7, 1.12,3.1, 1.15,1.7, 1.17,-0.3, 1.20,-2.9, 1.23,-4.3, 1.25,-1.6, 1.28,0.4, 1.30,3.1, 1.33,-0.9, 1.35,-0.3, 1.38,-0.9, 1.41,0.4, 1.44,-0.3, 1.47,-1.6, 1.50,-2.9, 1.52,-0.3, 1.55,0.8, 1.58,-0.3, 1.61,1.7, 1.64,1.1, 1.67,-0.3, 1.69,-0.9, 1.72,-3.6, 1.75,-0.9, 1.78,-0.3, 1.81,1.1, 1.84,-0.9, 1.86,1.7, 1.89,2.4, 1.91,-1.6, 1.93,1.1, 1.95,4.4, 1.97,2.4, 1.98,-2.3, 2.00,-3.6];
const niigataM03 = [0,0, 1.04,0, 1.07,1.7, 1.08,3.1, 1.11,1.7, 1.14,-0.9, 1.16,-3.6, 1.18,-1.6, 1.21,-0.3, 1.24,1.1, 1.27,-0.9, 1.30,1.7, 1.33,-0.3, 1.35,0.4, 1.38,-1.6, 1.41,1.1, 1.44,-0.9, 1.47,2.4, 1.50,0.4, 1.52,-1.6, 1.55,1.7, 1.58,-0.9, 1.61,0.4, 1.63,3.1, 1.66,-0.3, 1.69,-1.6, 1.72,1.7, 1.75,-0.9, 1.77,0.4, 1.80,-1.6, 1.83,1.1, 1.86,-0.7, 1.89,1.7, 1.92,-0.3, 1.93,2.4, 1.95,5.1, 1.97,1.7, 1.98,-2.3, 2.00,-3.6];
const niigataM06 = [0,0, 0.70,0, 0.93,-0.3, 1.00,-0.5, 1.03,1.1, 1.06,5.1, 1.08,9.1, 1.10,11.5, 1.12,10.4, 1.14,3.7, 1.16,-4.3, 1.18,-9.6, 1.21,-12.9, 1.23,-15.6, 1.25,-12.3, 1.27,-1.6, 1.29,3.7, 1.31,7.1, 1.33,2.4, 1.35,3.1, 1.38,-0.3, 1.41,-1.6, 1.43,-4.3, 1.45,-6.9, 1.47,-9.6, 1.50,-1.6, 1.52,6.4, 1.54,9.7, 1.56,1.1, 1.58,-8.3, 1.60,-9.6, 1.62,-5.6, 1.64,6.4, 1.67,17.1, 1.69,9.1, 1.71,1.1, 1.73,-1.6, 1.75,-6.3, 1.77,-12.3, 1.79,-13.6, 1.81,-4.3, 1.84,-1.6, 1.86,3.7, 1.89,5.1, 1.91,2.4, 1.93,6.4, 1.95,10.4, 1.97,7.7, 1.98,1.1, 2.00,-9.6];
const niigataHet = [0,0, 1.04,0, 1.07,1.1, 1.10,2.7, 1.13,1.3, 1.16,-0.7, 1.18,-1.3, 1.21,-0.7, 1.24,0, 1.27,-0.3, 1.30,0.7, 1.33,0, 1.35,-0.7, 1.38,0, 1.41,0.7, 1.44,-0.3, 1.47,0, 1.50,0.7, 1.52,0, 1.55,0.3, 1.58,1.1, 1.61,1.3, 1.64,0.7, 1.67,0, 1.69,-0.7, 1.72,-0.3, 1.75,0, 1.78,-0.7, 1.81,0, 1.84,0.7, 1.86,0, 1.89,0.7, 1.92,1.3, 1.95,2.4, 1.97,0.7, 2.00,-0.7];
const niigataUni = [0,0, 1.04,0, 1.07,3.3, 1.10,5.3, 1.12,5.6, 1.14,4.0, 1.17,0, 1.20,-3.3, 1.23,-4.7, 1.25,-3.3, 1.28,0, 1.30,0.7, 1.33,-0.7, 1.35,0.7, 1.38,-0.7, 1.41,1.3, 1.44,0, 1.47,-1.3, 1.50,0.7, 1.52,2.0, 1.55,0, 1.58,-1.3, 1.61,2.9, 1.64,2.0, 1.67,0, 1.69,-1.3, 1.72,-0.7, 1.75,-4.0, 1.78,-1.3, 1.81,0.7, 1.84,0, 1.86,1.3, 1.89,-0.7, 1.92,1.3, 1.94,3.3, 1.96,2.0, 1.98,-0.7, 2.00,-2.0];

const STATION_DATA = [
  [esashiObs, esashiM02, esashiM03, esashiM06, esashiHet, esashiUni],
  [fukushimaObs, fukushimaM02, fukushimaM03, fukushimaM06, fukushimaHet, fukushimaUni],
  [iwasakiObs, iwasakiM02, iwasakiM03, iwasakiM06, iwasakiHet, iwasakiUni],
  [funakoshiObs, funakoshiM02, funakoshiM03, funakoshiM06, funakoshiHet, funakoshiUni],
  [funakawaObs, funakawaM02, funakawaM03, funakawaM06, funakawaHet, funakawaUni],
  [akitaObs, akitaM02, akitaM03, akitaM06, akitaHet, akitaUni],
  [shimoseObs, shimoseM02, shimoseM03, shimoseM06, shimoseHet, shimoseUni],
  [niigataObs, niigataM02, niigataM03, niigataM06, niigataHet, niigataUni],
];

// ---------- layout & style (not data) ----------
const FONT = "'Noto Sans CJK JP', 'Noto Sans', sans-serif";
const COLORS = ["#151515", "#ec1c24", "#1f1fd8", "#1fae2a", "#e64ccc", "#2fe3f0"];
const PX_PER_CM = 2.5;
// trace offsets (cm above the time axis) per panel
const LAYOUT = [
  { left: 17, right: 253, axisY: 350, top: 118, tx: 20, ty: 141, offs: [70.3, 57.3, 47.1, 34.9, 24.3, 12.9] },
  { left: 323, right: 560, axisY: 350, top: 118, tx: 326, ty: 141, offs: [70.0, 57.3, 47.1, 34.9, 24.0, 12.9] },
  { left: 631, right: 866, axisY: 405, top: 118, tx: 633, ty: 141, offs: [92.0, 79.1, 63.3, 41.3, 32.3, 13.3] },
  { left: 937, right: 1173, axisY: 350, top: 118, tx: 940, ty: 141, offs: [70.0, 57.1, 47.1, 34.9, 23.7, 12.9] },
  { left: 17, right: 253, axisY: 645, top: 413, tx: 20, ty: 435, offs: [70.7, 58.3, 48.3, 35.6, 24.7, 14.0] },
  { left: 323, right: 560, axisY: 645, top: 413, tx: 326, ty: 435, offs: [70.7, 58.3, 48.3, 35.6, 24.7, 14.0] },
  { left: 631, right: 866, axisY: 645, top: 450, tx: 633, ty: 470, offs: [56.7, 48.0, 39.6, 28.4, 18.3, 9.3] },
  { left: 937, right: 1173, axisY: 645, top: 413, tx: 940, ty: 435, offs: [71.3, 58.3, 48.3, 35.6, 24.7, 14.0] },
];
const LEGEND_POS = [
  { x: 405, y: 40 }, { x: 598, y: 40 }, { x: 790, y: 40 }, { x: 985, y: 40 },
  { x: 405, y: 73 }, { x: 625, y: 73 },
];

function toPoints(flat: number[], off: number) {
  const pts: number[][] = [];
  for (let i = 0; i + 1 < flat.length; i += 2) pts.push([flat[i], flat[i + 1] + off]);
  return pts;
}

function buildOption() {
  const grid: any[] = [];
  const xAxis: any[] = [];
  const yAxis: any[] = [];
  const series: any[] = [];
  const graphic: any[] = [];

  LAYOUT.forEach((L, i) => {
    const h = L.axisY - L.top;
    grid.push({ left: L.left, top: L.top, width: L.right - L.left, height: h, containLabel: false });
    xAxis.push({
      gridIndex: i,
      type: "value",
      min: 0,
      max: 2,
      interval: 0.5,
      axisLine: { show: true, onZero: false, lineStyle: { color: "#111", width: 2 } },
      axisTick: { show: true, inside: true, length: 5, lineStyle: { color: "#111", width: 1.5 } },
      axisLabel: {
        show: true,
        fontSize: 24,
        lineHeight: 20,
        color: "#111",
        fontFamily: FONT,
        margin: 15,
        showMinLabel: true,
        showMaxLabel: true,
        formatter: (v: number) => (X_TICK_LABELS.indexOf(v) >= 0 ? String(v) : ""),
      },
      splitLine: { show: false },
    });
    yAxis.push({ gridIndex: i, type: "value", min: 0, max: h / PX_PER_CM, show: false, splitLine: { show: false } });
    const order = [0, 1, 2, 4, 5, 3];
    order.forEach((k) => {
      series.push({
        type: "line",
        name: SERIES_NAMES[k],
        xAxisIndex: i,
        yAxisIndex: i,
        data: toPoints(STATION_DATA[i][k], L.offs[k]),
        showSymbol: false,
        symbol: "none",
        silent: true,
        clip: false,
        smooth: 0.2,
        z: k === 3 ? 4 : 3,
        lineStyle: { color: COLORS[k], width: 1.8 },
        itemStyle: { color: COLORS[k] },
      });
    });
    graphic.push({
      type: "text",
      x: L.tx,
      y: L.ty,
      style: {
        text: STATIONS[i],
        fill: "#333",
        fontSize: 17,
        fontFamily: FONT,
        align: "left",
        verticalAlign: "middle",
        textAlign: "left",
        textVerticalAlign: "middle",
      },
    });
  });

  // legend box
  graphic.push({
    type: "rect",
    shape: { x: 357, y: 6, width: 805, height: 100 },
    style: { fill: "none", stroke: "#222", lineWidth: 1.5 },
  });
  SERIES_NAMES.forEach((name, k) => {
    const p = LEGEND_POS[k];
    graphic.push({
      type: "line",
      shape: { x1: p.x, y1: p.y, x2: p.x + 42, y2: p.y },
      style: { stroke: COLORS[k], lineWidth: 2 },
    });
    graphic.push({
      type: "text",
      x: p.x + 57,
      y: p.y,
      style: {
        text: name,
        fill: "#222",
        fontSize: 21,
        fontFamily: FONT,
        align: "left",
        verticalAlign: "middle",
        textAlign: "left",
        textVerticalAlign: "middle",
      },
    });
  });

  // 20 cm scale bar
  const barTop = 42;
  const barBot = barTop + SCALE_BAR_CM * PX_PER_CM;
  graphic.push({ type: "line", shape: { x1: 327, y1: barTop, x2: 327, y2: barBot }, style: { stroke: "#222", lineWidth: 1.5 } });
  graphic.push({ type: "line", shape: { x1: 323, y1: barTop, x2: 331, y2: barTop }, style: { stroke: "#222", lineWidth: 1.5 } });
  graphic.push({ type: "line", shape: { x1: 323, y1: barBot, x2: 331, y2: barBot }, style: { stroke: "#222", lineWidth: 1.5 } });
  graphic.push({
    type: "text", x: 300, y: 50,
    style: { text: String(SCALE_BAR_CM), fill: "#222", fontSize: 19, fontFamily: FONT, align: "center", verticalAlign: "middle", textAlign: "center", textVerticalAlign: "middle" },
  });
  graphic.push({
    type: "text", x: 300, y: 81,
    style: { text: "cm", fill: "#222", fontSize: 19, fontFamily: FONT, align: "center", verticalAlign: "middle", textAlign: "center", textVerticalAlign: "middle" },
  });

  // x label
  graphic.push({
    type: "text", x: 599, y: 704,
    style: { text: X_LABEL, fill: "#222", fontSize: 21, lineHeight: 21, fontFamily: FONT, align: "center", verticalAlign: "middle", textAlign: "center", textVerticalAlign: "middle" },
  });

  return {
    animation: false,
    backgroundColor: "#ffffff",
    grid,
    xAxis,
    yAxis,
    series,
    graphic,
  };
}

export default function App() {
  const ref = useRef<HTMLDivElement>(null);
  useEffect(() => {
    if (!ref.current) return;
    const chart = echarts.init(ref.current, null, { renderer: "svg" });
    chart.setOption(buildOption() as any);
    return () => chart.dispose();
  }, []);
  return (
    <div
      ref={ref}
      style={{ position: "absolute", left: 0, top: 0, width: 1187, height: 718, background: "#fff" }}
    />
  );
}
